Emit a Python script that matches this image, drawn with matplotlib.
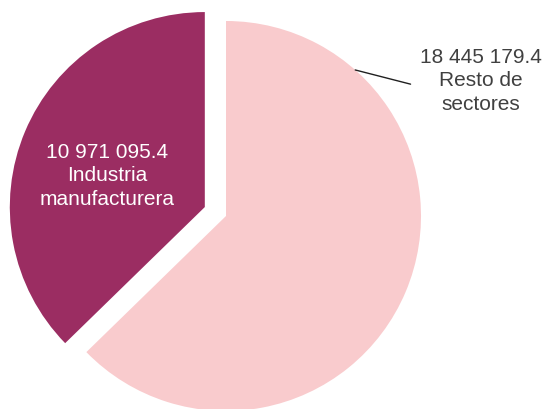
import numpy as np
import matplotlib.pyplot as plt

plt.rcParams['font.family'] = ['Liberation Sans', 'DejaVu Sans']

# datos
sectores = ['Resto de\nsectores', 'Industria\nmanufacturera']
valores = [18445179.4, 10971095.4]
colores = ['#F9CBCD', '#9B2D62']

def fmt(v):
    return '{:,.1f}'.format(v).replace(',', ' ')

W, H = 545, 410
fig = plt.figure(figsize=(W / 100, H / 100), dpi=100)
ax = fig.add_axes([0, 0, 1, 1])

cx, cy, R = 226, H - 217, 195
ax.pie(valores, colors=colores, explode=[0, 23], startangle=90,
       counterclock=False, center=(cx, cy), radius=R,
       wedgeprops=dict(linewidth=0), frame=True)
ax.set_xlim(0, W)
ax.set_ylim(0, H)
ax.set_aspect('equal')
ax.axis('off')

# etiqueta resto (con linea guia)
ang = np.deg2rad(48.5)
ax.annotate(fmt(valores[0]) + '\n' + sectores[0],
            xy=(cx + R * np.cos(ang), cy + R * np.sin(ang)),
            xytext=(481, H - 81), ha='center', va='center',
            fontsize=15, color='#404040', linespacing=1.3,
            arrowprops=dict(arrowstyle='-', color='#202020', lw=1,
                            shrinkA=5, shrinkB=0,
                            relpos=(0, 0.4)))

# etiqueta industria
ax.text(107, H - 176, fmt(valores[1]) + '\n' + sectores[1],
        ha='center', va='center', fontsize=15, color='white',
        linespacing=1.3)

fig.savefig('out.png', dpi=100)
